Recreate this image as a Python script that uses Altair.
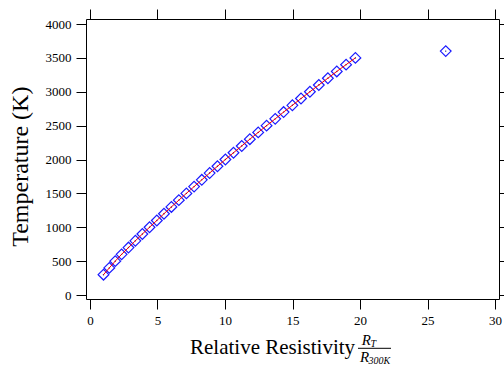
import altair as alt
import pandas as pd

temperature = [300, 400, 500, 600, 700, 800, 900, 1000, 1100, 1200, 1300, 1400,
               1500, 1600, 1700, 1800, 1900, 2000, 2100, 2200, 2300, 2400, 2500,
               2600, 2700, 2800, 2900, 3000, 3100, 3200, 3300, 3400, 3500, 3600]
ratio = [1.0, 1.43, 1.87, 2.34, 2.85, 3.36, 3.88, 4.41, 4.95, 5.48, 6.03, 6.58,
         7.14, 7.71, 8.28, 8.86, 9.44, 10.03, 10.63, 11.24, 11.84, 12.46, 13.08,
         13.72, 14.34, 14.99, 15.63, 16.29, 16.95, 17.62, 18.28, 18.97, 19.66, 26.35]
x_ticks = [0, 5, 10, 15, 20, 25, 30]
y_ticks = [0, 500, 1000, 1500, 2000, 2500, 3000, 3500, 4000]

df = pd.DataFrame({"ratio": ratio, "temperature": temperature})

FONT = "Liberation Serif"
xscale = alt.Scale(domain=[-0.296, 30.296], nice=False, zero=False)
yscale = alt.Scale(domain=[-59, 4074], nice=False, zero=False)

common_axis = dict(grid=False, tickSize=10, tickColor="black", domainColor="black",
                   tickWidth=1, domainWidth=1, labelFont=FONT, labelFontSize=13,
                   labelColor="black", title=None, format="d")

base = alt.Chart(df)

points = base.mark_point(shape="diamond", size=115, filled=False, color="#1a1aff",
                         strokeWidth=1.2, opacity=1).encode(
    x=alt.X("ratio:Q", scale=xscale,
            axis=alt.Axis(orient="bottom", values=x_ticks, labelPadding=5, **common_axis)),
    y=alt.Y("temperature:Q", scale=yscale,
            axis=alt.Axis(orient="left", values=y_ticks, labelPadding=5, **common_axis)),
)

dots = base.mark_point(shape="circle", size=2, filled=True, color="#000080", opacity=1).encode(
    x=alt.X("ratio:Q", scale=xscale, axis=None),
    y=alt.Y("temperature:Q", scale=yscale, axis=None),
)

line = base.transform_filter(alt.datum.temperature <= 3500).mark_line(
    color="#ff0000", strokeWidth=1).encode(
    x=alt.X("ratio:Q", scale=xscale,
            axis=alt.Axis(orient="top", values=x_ticks, labels=False, **common_axis)),
    y=alt.Y("temperature:Q", scale=yscale,
            axis=alt.Axis(orient="right", values=y_ticks, labels=False, **common_axis)),
)

one = pd.DataFrame({"a": [0]})

def label(text, x, y, size, italic=False, angle=0, align="left"):
    kw = dict(text=text, font=FONT, fontSize=size, color="black", align=align,
              baseline="alphabetic")
    if italic:
        kw["fontStyle"] = "italic"
    if angle:
        kw["angle"] = angle
    return alt.Chart(one).mark_text(**kw).encode(x=alt.value(x), y=alt.value(y))

xtitle = label("Relative Resistivity", 104, 335.3, 21)
r_top = label("R", 275.7, 326, 15, italic=True)
r_top_sub = label("T", 284.5, 328, 10, italic=True)
r_bot = label("R", 274, 342.7, 15, italic=True)
r_bot_sub = label("300K", 282.5, 344.5, 10, italic=True)
frac = alt.Chart(one).mark_rule(color="black", strokeWidth=1).encode(
    x=alt.value(272), x2=alt.value(305), y=alt.value(329.3))
ytitle = label("Temperature (K)", -57.7, 147.7, 24, angle=270, align="center")

chart = alt.layer(points, dots, line, xtitle, r_top, r_top_sub, r_bot, r_bot_sub,
                  frac, ytitle).resolve_axis(x="independent", y="independent").properties(
    width=413, height=280,
    autosize=alt.AutoSizeParams(type="none"),
    padding={"left": 86, "top": 19, "right": 5, "bottom": 67},
    background="white",
).configure_view(stroke=None)

chart.save("out.html", embed_options={"renderer": "svg", "actions": False})
